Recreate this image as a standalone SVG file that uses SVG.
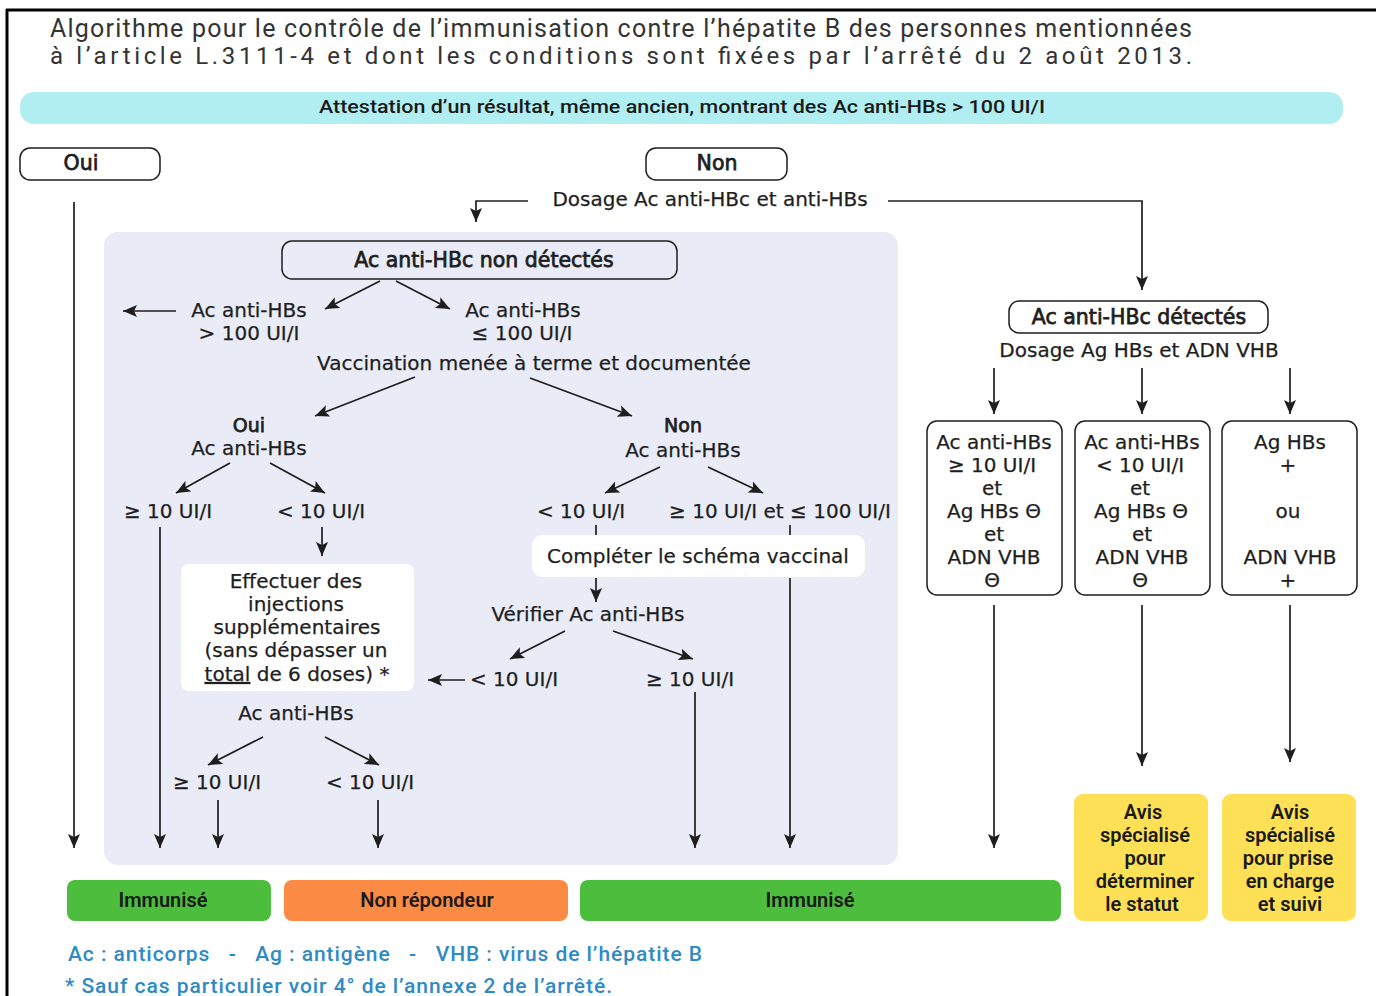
<svg xmlns="http://www.w3.org/2000/svg" width="1376" height="996" viewBox="0 0 1376 996">
<defs>
<marker id="ah" markerUnits="userSpaceOnUse" markerWidth="15" markerHeight="13" refX="14" refY="6.5" orient="auto">
<path d="M0,0.5 L14,6.5 L0,12.5 L3,6.5 z" fill="#1e1e1e"/>
</marker>
<style>
.t{font-family:"DejaVu Sans",Verdana,sans-serif;font-size:20px;fill:#1e1e1e;stroke:#1e1e1e;stroke-width:0.25;text-anchor:middle}
.b{font-size:20.5px;stroke-width:0.75}
.box{fill:none;stroke:#1e1e1e;stroke-width:1.5}
.wbox{fill:#ffffff}
.c line,.c path{stroke:#1e1e1e;stroke-width:1.7;fill:none}
.a{marker-end:url(#ah)}
.res{font-family:Roboto,"Liberation Sans",sans-serif;font-weight:600;font-size:20px;fill:#1a1a1a;text-anchor:middle}
.foot{font-family:Roboto,"Liberation Sans",sans-serif;font-weight:500;font-size:21px;fill:#2f8ac4}
</style>
</defs>
<rect width="1376" height="996" fill="#ffffff"/>
<g id="frame">
<line x1="6" y1="10" x2="1376" y2="10" stroke="#000" stroke-width="3"/>
<line x1="7" y1="9" x2="7" y2="996" stroke="#000" stroke-width="3"/>
</g>
<g id="title">
<text x="50" y="37" font-family="Roboto,'Liberation Sans',sans-serif" font-size="25px" fill="#333" textLength="1142" lengthAdjust="spacing">Algorithme pour le contrôle de l’immunisation contre l’hépatite B des personnes mentionnées</text>
<text x="50" y="64" font-family="Roboto,'Liberation Sans',sans-serif" font-size="24px" fill="#333" textLength="1142" lengthAdjust="spacing">à l’article L.3111-4 et dont les conditions sont fixées par l’arrêté du 2 août 2013.</text>
</g>
<g id="attestation">
<rect x="20" y="92" width="1323" height="32" rx="14" fill="#b1eef1"/>
<text x="682" y="113" font-family="Roboto,'Liberation Sans',sans-serif" font-weight="500" font-size="18px" fill="#1a1a1a" text-anchor="middle" textLength="726" lengthAdjust="spacingAndGlyphs">Attestation d’un résultat, même ancien, montrant des Ac anti-HBs &gt; 100 UI/I</text>
</g>
<g id="panel">
<rect x="104" y="232" width="794" height="633" rx="14" fill="#e9ebf6"/>
</g>
<g id="oui">
<rect class="box" x="20" y="148" width="140" height="32" rx="10"/>
<text class="t b" x="81" y="170">Oui</text>
</g>
<g id="non">
<rect class="box" x="646" y="148" width="141" height="32" rx="10"/>
<text class="t b" x="717" y="170">Non</text>
</g>
<g id="dosage1">
<text class="t" x="710" y="206">Dosage Ac anti-HBc et anti-HBs</text>
</g>
<g id="non-detectes">
<rect class="box" x="282" y="241" width="395" height="38" rx="10"/>
<text class="t b" x="484" y="267">Ac anti-HBc non détectés</text>
</g>
<g id="sup100">
<text class="t" x="249" y="317">Ac anti-HBs</text>
<text class="t" x="249" y="340">&gt; 100 UI/I</text>
</g>
<g id="inf100">
<text class="t" x="523" y="317">Ac anti-HBs</text>
<text class="t" x="522" y="340">≤ 100 UI/I</text>
</g>
<g id="vaccination">
<text class="t" x="534" y="370">Vaccination menée à terme et documentée</text>
</g>
<g id="oui-ac">
<text class="t b" x="249" y="432" style="font-size:19px">Oui</text>
<text class="t" x="249" y="455">Ac anti-HBs</text>
</g>
<g id="non-ac">
<text class="t b" x="683" y="432" style="font-size:19px">Non</text>
<text class="t" x="683" y="457">Ac anti-HBs</text>
</g>
<g id="oui-ge10"><text class="t" x="168" y="518">≥ 10 UI/I</text></g>
<g id="oui-lt10"><text class="t" x="321" y="518">&lt; 10 UI/I</text></g>
<g id="non-lt10"><text class="t" x="581" y="518">&lt; 10 UI/I</text></g>
<g id="non-ge10"><text class="t" x="780" y="518">≥ 10 UI/I et ≤ 100 UI/I</text></g>
<g id="effectuer">
<rect class="wbox" x="181" y="564" width="233" height="127" rx="8"/>
<text class="t" x="296" y="588">Effectuer des</text>
<text class="t" x="296" y="611">injections</text>
<text class="t" x="297" y="634">supplémentaires</text>
<text class="t" x="296" y="657">(sans dépasser un</text>
<text class="t" x="297" y="681"><tspan text-decoration="underline">total</tspan> de 6 doses) *</text>
</g>
<g id="completer">
<rect class="wbox" x="532" y="535" width="333" height="42" rx="10"/>
<text class="t" x="698" y="563">Compléter le schéma vaccinal</text>
</g>
<g id="verifier"><text class="t" x="588" y="621">Vérifier Ac anti-HBs</text></g>
<g id="ver-lt10"><text class="t" x="514" y="686">&lt; 10 UI/I</text></g>
<g id="ver-ge10"><text class="t" x="690" y="686">≥ 10 UI/I</text></g>
<g id="ac-after">
<text class="t" x="296" y="720">Ac anti-HBs</text>
</g>
<g id="after-ge10"><text class="t" x="217" y="789">≥ 10 UI/I</text></g>
<g id="after-lt10"><text class="t" x="370" y="789">&lt; 10 UI/I</text></g>
<g id="detectes">
<rect class="box" x="1009" y="301" width="259" height="32" rx="10"/>
<text class="t b" x="1139" y="324">Ac anti-HBc détectés</text>
</g>
<g id="dosage2"><text class="t" x="1139" y="357">Dosage Ag HBs et ADN VHB</text></g>
<g id="case1">
<rect class="box" x="927" y="421" width="135" height="174" rx="10"/>
<text class="t" x="994" y="449">Ac anti-HBs</text>
<text class="t" x="992" y="472">≥ 10 UI/I</text>
<text class="t" x="992" y="495">et</text>
<text class="t" x="994" y="518">Ag HBs Θ</text>
<text class="t" x="994" y="541">et</text>
<text class="t" x="994" y="564">ADN VHB</text>
<text class="t" x="992" y="587">Θ</text>
</g>
<g id="case2">
<rect class="box" x="1075" y="421" width="135" height="174" rx="10"/>
<text class="t" x="1142" y="449">Ac anti-HBs</text>
<text class="t" x="1140" y="472">&lt; 10 UI/I</text>
<text class="t" x="1140" y="495">et</text>
<text class="t" x="1141" y="518">Ag HBs Θ</text>
<text class="t" x="1142" y="541">et</text>
<text class="t" x="1142" y="564">ADN VHB</text>
<text class="t" x="1140" y="587">Θ</text>
</g>
<g id="case3">
<rect class="box" x="1222" y="421" width="135" height="174" rx="10"/>
<text class="t" x="1290" y="449">Ag HBs</text>
<text class="t" x="1288" y="472">+</text>
<text class="t" x="1288" y="518">ou</text>
<text class="t" x="1290" y="564">ADN VHB</text>
<text class="t" x="1288" y="587">+</text>
</g>
<g id="immunise1">
<rect x="67" y="880" width="204" height="41" rx="8" fill="#4dbd3e"/>
<text class="res" x="163" y="907">Immunisé</text>
</g>
<g id="non-repondeur">
<rect x="284" y="880" width="284" height="41" rx="8" fill="#fb8a45"/>
<text class="res" x="427" y="907">Non répondeur</text>
</g>
<g id="immunise2">
<rect x="580" y="880" width="481" height="41" rx="8" fill="#4dbd3e"/>
<text class="res" x="810" y="907">Immunisé</text>
</g>
<g id="avis1">
<rect x="1074" y="794" width="134" height="127" rx="9" fill="#fde055"/>
<text class="res" x="1143" y="819" font-size="20.5px">Avis</text>
<text class="res" x="1145" y="842" font-size="20.5px">spécialisé</text>
<text class="res" x="1145" y="865" font-size="20.5px">pour</text>
<text class="res" x="1145" y="888" font-size="20.5px">déterminer</text>
<text class="res" x="1142" y="911" font-size="20.5px">le statut</text>
</g>
<g id="avis2">
<rect x="1222" y="794" width="134" height="127" rx="9" fill="#fde055"/>
<text class="res" x="1290" y="819" font-size="20.5px">Avis</text>
<text class="res" x="1290" y="842" font-size="20.5px">spécialisé</text>
<text class="res" x="1288" y="865" font-size="20.5px">pour prise</text>
<text class="res" x="1290" y="888" font-size="20.5px">en charge</text>
<text class="res" x="1290" y="911" font-size="20.5px">et suivi</text>
</g>
<g id="legend">
<text class="foot" x="68" y="961" textLength="634" lengthAdjust="spacing" xml:space="preserve">Ac : anticorps   -   Ag : antigène   -   VHB : virus de l’hépatite B</text>
<text class="foot" x="65" y="993" textLength="547" lengthAdjust="spacing">* Sauf cas particulier voir 4° de l’annexe 2 de l’arrêté.</text>
</g>
<g id="connectors" class="c">
<line class="a" x1="74" y1="202" x2="74" y2="848"/>
<path class="a" d="M528,201 H476 V222"/>
<path class="a" d="M888,201 H1142 V290"/>
<line class="a" x1="380" y1="281" x2="325" y2="309"/>
<line class="a" x1="396" y1="281" x2="450" y2="309"/>
<line class="a" x1="176" y1="311" x2="123" y2="311"/>
<line class="a" x1="415" y1="377" x2="315" y2="416"/>
<line class="a" x1="530" y1="378" x2="632" y2="416"/>
<line class="a" x1="230" y1="463" x2="176" y2="493"/>
<line class="a" x1="270" y1="463" x2="325" y2="493"/>
<line class="a" x1="160" y1="527" x2="160" y2="848"/>
<line class="a" x1="322" y1="527" x2="322" y2="556"/>
<line class="a" x1="660" y1="467" x2="605" y2="493"/>
<line class="a" x1="708" y1="467" x2="763" y2="493"/>
<line x1="596" y1="525" x2="596" y2="535"/>
<line x1="790" y1="525" x2="790" y2="535"/>
<line class="a" x1="596" y1="578" x2="596" y2="602"/>
<line class="a" x1="790" y1="578" x2="790" y2="848"/>
<line class="a" x1="565" y1="631" x2="510" y2="659"/>
<line class="a" x1="613" y1="631" x2="693" y2="659"/>
<line class="a" x1="465" y1="680" x2="428" y2="680"/>
<line class="a" x1="695" y1="692" x2="695" y2="848"/>
<line class="a" x1="263" y1="737" x2="208" y2="765"/>
<line class="a" x1="325" y1="737" x2="379" y2="765"/>
<line class="a" x1="218" y1="800" x2="218" y2="848"/>
<line class="a" x1="378" y1="800" x2="378" y2="848"/>
<line class="a" x1="994" y1="368" x2="994" y2="414"/>
<line class="a" x1="1142" y1="368" x2="1142" y2="414"/>
<line class="a" x1="1290" y1="368" x2="1290" y2="414"/>
<line class="a" x1="994" y1="605" x2="994" y2="848"/>
<line class="a" x1="1142" y1="605" x2="1142" y2="766"/>
<line class="a" x1="1290" y1="605" x2="1290" y2="762"/>
</g>
</svg>
